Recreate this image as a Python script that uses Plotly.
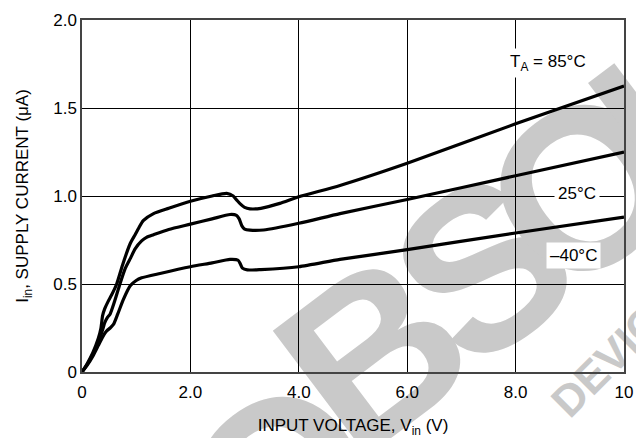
import plotly.graph_objects as go

# Data (Vin in V, Iin in uA)
v_85 = [0, 0.1, 0.2, 0.3, 0.35, 0.38, 0.42, 0.48, 0.55, 0.64, 0.75, 0.89, 0.98, 1.05, 1.13, 1.32, 1.6, 2.0, 2.4, 2.67, 2.79, 2.86, 2.92, 3.0, 3.1, 3.3, 3.65, 4.0, 4.76, 6.0, 8.0, 10.0]
i_85 = [0, 0.05, 0.11, 0.19, 0.25, 0.32, 0.36, 0.40, 0.44, 0.50, 0.61, 0.73, 0.78, 0.82, 0.86, 0.90, 0.93, 0.97, 1.0, 1.015, 1.0, 0.975, 0.955, 0.935, 0.927, 0.93, 0.958, 0.996, 1.06, 1.186, 1.41, 1.625]

v_25 = [0, 0.1, 0.2, 0.3, 0.38, 0.42, 0.47, 0.52, 0.6, 0.7, 0.8, 0.9, 0.98, 1.1, 1.19, 1.32, 1.6, 2.0, 2.4, 2.73, 2.85, 2.9, 2.95, 3.0, 3.1, 3.35, 4.0, 4.76, 6.0, 8.0, 10.0]
i_25 = [0, 0.045, 0.10, 0.17, 0.24, 0.28, 0.31, 0.33, 0.40, 0.50, 0.59, 0.65, 0.70, 0.745, 0.765, 0.78, 0.81, 0.84, 0.87, 0.895, 0.89, 0.87, 0.83, 0.812, 0.806, 0.807, 0.845, 0.90, 0.98, 1.115, 1.25]

v_m40 = [0, 0.1, 0.2, 0.3, 0.4, 0.46, 0.52, 0.58, 0.66, 0.76, 0.89, 1.0, 1.1, 1.44, 2.0, 2.4, 2.73, 2.88, 2.92, 2.96, 3.05, 3.3, 4.0, 4.76, 6.0, 8.0, 10.0]
i_m40 = [0, 0.04, 0.09, 0.15, 0.21, 0.235, 0.25, 0.27, 0.33, 0.41, 0.49, 0.52, 0.535, 0.56, 0.598, 0.62, 0.64, 0.635, 0.615, 0.59, 0.58, 0.582, 0.598, 0.64, 0.695, 0.79, 0.88]

x_ticks = [0, 2, 4, 6, 8, 10]
x_ticktext = ["0", "2.0", "4.0", "6.0", "8.0", "10"]
y_ticks = [0, 0.5, 1.0, 1.5, 2.0]
y_ticktext = ["0", "0.5", "1.0", "1.5", "2.0"]

labels = ["T<sub>A</sub> = 85°C", "25°C", "–40°C"]
label_x = [8.6, 9.14, 9.06]
label_y = [1.756, 1.017, 0.66]

# watermark letters ("OBSOLETE" partially visible) and the small "DEVICE" line
wm_letters = ["O", "B", "S", "O", "L"]
wm_px = [268, 360, 470, 570, 665]
wm_py = [462, 335, 250, 170, 95]
watermark_small = "DEVICE"

FONT = "Liberation Sans, Arial, sans-serif"
FS = 17

fig = go.Figure()
for v, i in [(v_85, i_85), (v_25, i_25), (v_m40, i_m40)]:
    fig.add_trace(go.Scatter(x=v, y=i, mode="lines",
                             line=dict(color="black", width=3.2, shape="spline", smoothing=0.6),
                             showlegend=False, hoverinfo="skip"))

def px2paper(px, py):
    return (px - 82) / 542.0, (372 - py) / 352.0

def wm_label(text, px, py, size, angle):
    cx, cy = px2paper(px, py)
    fig.add_shape(type="rect", xref="paper", yref="paper", layer="below",
                  x0=cx - 0.005, x1=cx + 0.005, y0=cy - 0.005, y1=cy + 0.005,
                  line=dict(width=0), fillcolor="rgba(0,0,0,0)",
                  label=dict(text=text, textangle=angle, textposition="middle center",
                             font=dict(family="Liberation Sans, Arial", size=size,
                                       color="#c9c9c9", weight="bold")))

for t, px, py in zip(wm_letters, wm_px, wm_py):
    wm_label(t, px, py, 228, -37)
wm_label(watermark_small, 614, 348, 44, -45)

for t, x, y in zip(labels, label_x, label_y):
    fig.add_annotation(x=x, y=y, text=t, showarrow=False, bgcolor="white",
                       font=dict(family=FONT, size=FS, color="black"), borderpad=3)

fig.update_xaxes(range=[0, 10], tickvals=x_ticks, ticktext=x_ticktext,
                 showgrid=True, gridcolor="black", gridwidth=1,
                 showline=True, linecolor="#444", linewidth=1.5, mirror=True,
                 zeroline=False, ticks="", ticklen=0, automargin=False,
                 ticklabelstandoff=4,
                 tickfont=dict(family=FONT, size=FS, color="black"),
                 title=dict(text="INPUT VOLTAGE, V<sub>in</sub> (V)", standoff=18,
                            font=dict(family=FONT, size=FS, color="black")))
fig.update_yaxes(range=[0, 2.0], tickvals=y_ticks, ticktext=y_ticktext,
                 showgrid=True, gridcolor="black", gridwidth=1,
                 showline=True, linecolor="#444", linewidth=1.5, mirror=True,
                 zeroline=False, ticks="", ticklen=0, automargin=False,
                 tickfont=dict(family=FONT, size=FS, color="black"),
                 title=dict(text="I<sub>in</sub>, SUPPLY CURRENT (μA)", standoff=20,
                            font=dict(family=FONT, size=FS, color="black")))

fig.update_layout(width=636, height=438, margin=dict(l=82, r=12, t=20, b=66),
                  plot_bgcolor="white", paper_bgcolor="white")

fig.write_html("out.html", config={"displayModeBar": False},
               post_script="document.body.style.margin='0';")
